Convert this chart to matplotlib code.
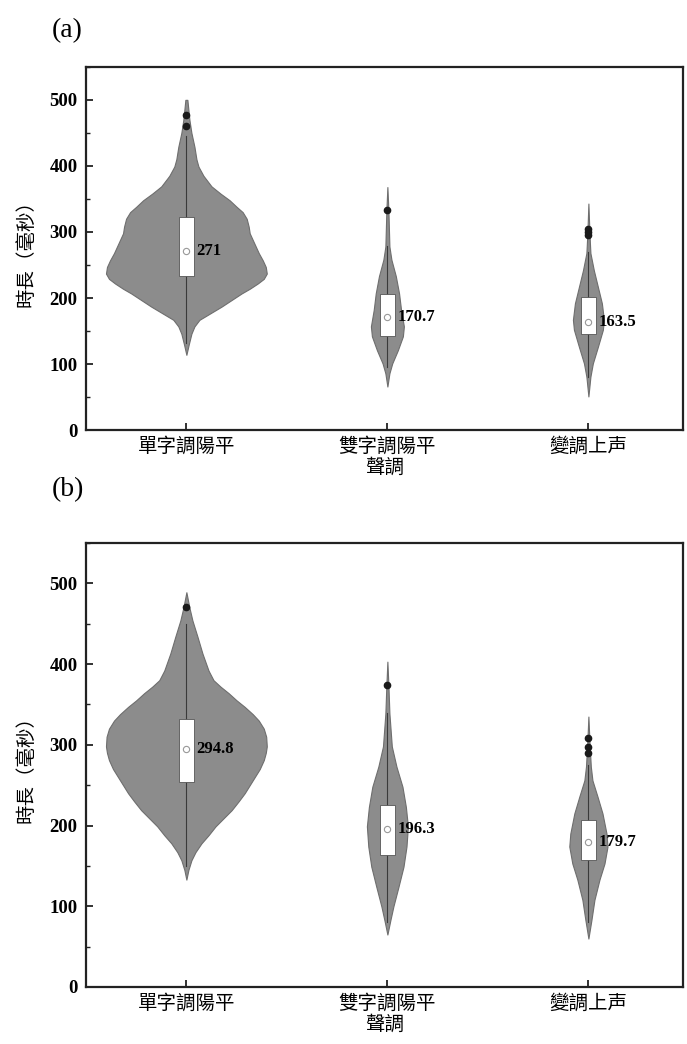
import numpy as np
import matplotlib
matplotlib.use('Agg')
import matplotlib.pyplot as plt
from matplotlib.ticker import MultipleLocator

# 类别
categories = ['單字調陽平', '雙字調陽平', '變調上声']

# 小提琴轮廓: (时长, 半宽) 从图中读取
# panel (a)
a_prof_y = [
    [500, 470, 450, 429, 410, 399, 385, 369, 358, 348, 338, 330, 320, 308, 298, 288, 278, 268,
     257, 247, 237, 229, 222, 214, 207, 197, 187, 177, 167, 157, 146, 130, 114],
    [368, 333, 300, 278, 258, 233, 207, 182, 157, 142, 121, 101, 86, 66],
    [343, 300, 280, 268, 242, 217, 192, 167, 152, 126, 101, 81, 51],
]
a_prof_w = [
    [0.005, 0.015, 0.025, 0.04, 0.05, 0.06, 0.085, 0.125, 0.17, 0.215, 0.25, 0.28, 0.30, 0.31,
     0.315, 0.33, 0.345, 0.36, 0.38, 0.395, 0.40, 0.385, 0.355, 0.315, 0.275, 0.225, 0.175,
     0.12, 0.065, 0.04, 0.025, 0.012, 0.0],
    [0.0, 0.005, 0.008, 0.01, 0.02, 0.042, 0.058, 0.068, 0.082, 0.077, 0.052, 0.024, 0.01, 0.0],
    [0.0, 0.005, 0.008, 0.01, 0.027, 0.047, 0.067, 0.077, 0.072, 0.047, 0.022, 0.01, 0.0],
]
a_box_q1 = [234, 143, 145]
a_box_q3 = [322, 206, 202]
a_whisk_lo = [132, 95, 80]
a_whisk_hi = [445, 278, 270]
a_mean = [271, 170.7, 163.5]
a_outliers = [[477, 460], [333], [304, 300, 296]]

# panel (b)
b_prof_y = [
    [489, 470, 454, 434, 413, 392, 380, 372, 364, 355, 347, 338, 330, 320, 310, 298, 290, 281,
     270, 260, 250, 240, 230, 219, 209, 199, 188, 178, 167, 157, 145, 133],
    [403, 374, 339, 298, 273, 248, 223, 199, 174, 149, 124, 100, 83, 65],
    [335, 300, 273, 256, 236, 215, 190, 174, 153, 133, 108, 83, 60],
]
b_prof_w = [
    [0.0, 0.015, 0.03, 0.055, 0.08, 0.11, 0.135, 0.17, 0.21, 0.25, 0.29, 0.33, 0.36, 0.385,
     0.397, 0.40, 0.395, 0.385, 0.365, 0.34, 0.315, 0.29, 0.26, 0.225, 0.185, 0.145, 0.11,
     0.075, 0.045, 0.025, 0.01, 0.0],
    [0.0, 0.005, 0.01, 0.022, 0.045, 0.075, 0.092, 0.102, 0.095, 0.08, 0.055, 0.03, 0.015, 0.0],
    [0.0, 0.006, 0.012, 0.02, 0.045, 0.07, 0.09, 0.095, 0.08, 0.055, 0.03, 0.015, 0.0],
]
b_box_q1 = [254, 164, 157]
b_box_q3 = [332, 225, 207]
b_whisk_lo = [150, 80, 80]
b_whisk_hi = [450, 340, 275]
b_mean = [294.8, 196.3, 179.7]
b_outliers = [[471], [374], [308, 297, 290]]

CJK = ['Noto Sans CJK TC', 'DejaVu Sans']
SERIF = ['Liberation Serif', 'DejaVu Serif']


def draw_panel(ax, prof_y, prof_w, q1, q3, wlo, whi, means, outl, tag):
    for i in range(len(categories)):
        y = np.array(prof_y[i])
        w = np.array(prof_w[i])
        ax.fill_betweenx(y, i - w, i + w, facecolor='#8c8c8c', edgecolor='#6e6e6e',
                         linewidth=0.8, zorder=2)
        ax.plot([i, i], [wlo[i], whi[i]], color='#3a3a3a', linewidth=0.8, zorder=3)
        ax.bar(i, q3[i] - q1[i], bottom=q1[i], width=0.075, color='white',
               edgecolor='#555555', linewidth=0.6, zorder=4)
        ax.plot(i, means[i], 'o', markersize=4.5, mfc='white', mec='#999999',
                mew=0.8, zorder=5)
        ax.plot([i] * len(outl[i]), outl[i], 'o', markersize=4.5, color='#1a1a1a', zorder=5)
        lbl = ('%g' % means[i])
        ax.text(i + 0.05, means[i], lbl, fontsize=12, fontweight='bold', family=SERIF,
                va='center', ha='left', zorder=6)

    ax.set_xlim(-0.5, 2.47)
    ax.set_ylim(0, 550)
    ax.set_xticks(range(len(categories)))
    ax.set_xticklabels(categories, family=CJK, fontsize=14)
    ax.yaxis.set_major_locator(MultipleLocator(100))
    ax.yaxis.set_minor_locator(MultipleLocator(50))
    ax.set_yticks([0, 100, 200, 300, 400, 500])
    for t in ax.get_yticklabels():
        t.set_family(SERIF)
        t.set_fontweight('bold')
        t.set_fontsize(13.5)
    ax.tick_params(axis='both', which='major', direction='in', length=5, width=1.3, color='#222222')
    ax.tick_params(axis='y', which='minor', direction='in', length=3, width=1.0, color='#222222')
    ax.tick_params(axis='y', which='major', pad=6)
    ax.tick_params(axis='x', which='major', pad=4)
    for s in ax.spines.values():
        s.set_linewidth(1.6)
        s.set_color('#222222')
    ax.set_ylabel('時長（毫秒）', family=CJK, fontsize=14, labelpad=9)
    ax.set_xlabel('聲調', family=CJK, fontsize=14, labelpad=0)
    ax.text(-0.057, 1.10, tag, transform=ax.transAxes, fontsize=20, family=SERIF,
            ha='left', va='center')


fig = plt.figure(figsize=(6.87, 10.44), dpi=100)
ax_a = fig.add_axes([0.125, 0.588, 0.869, 0.348])
ax_b = fig.add_axes([0.125, 0.0546, 0.869, 0.4253])

draw_panel(ax_a, a_prof_y, a_prof_w, a_box_q1, a_box_q3, a_whisk_lo, a_whisk_hi,
           a_mean, a_outliers, '(a)')
draw_panel(ax_b, b_prof_y, b_prof_w, b_box_q1, b_box_q3, b_whisk_lo, b_whisk_hi,
           b_mean, b_outliers, '(b)')
ax_b.texts[-1].set_position((-0.057, 1.12))

fig.savefig('out.png', dpi=100)
